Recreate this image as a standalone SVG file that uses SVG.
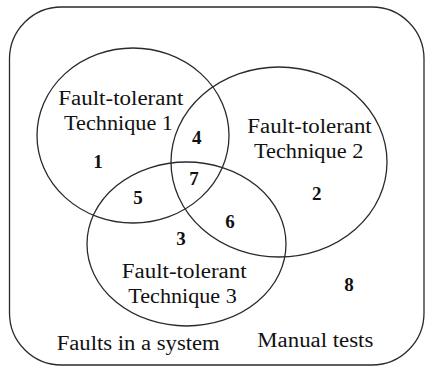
<svg xmlns="http://www.w3.org/2000/svg" width="425" height="367" viewBox="0 0 425 367">
<style>
.set{fill:none;stroke:#2a2a2a;stroke-width:1.3}
.lbl{font-family:"Liberation Serif","Times New Roman",serif;font-size:20.5px;fill:#111}
.num{font-family:"Liberation Serif","Times New Roman",serif;font-size:19px;font-weight:bold;fill:#111;text-anchor:middle}
</style>
<rect width="425" height="367" fill="#fff"/>
<g id="universe">
<rect class="set" x="9.5" y="7" width="414.5" height="358" rx="52" ry="52"/>
<text class="lbl" x="56.7" y="350" textLength="163" lengthAdjust="spacingAndGlyphs">Faults in a system</text>
<text class="lbl" x="257.3" y="347" textLength="116" lengthAdjust="spacingAndGlyphs">Manual tests</text>
<text class="num" x="349" y="291">8</text>
</g>
<g id="technique1">
<ellipse class="set" cx="133" cy="135.5" rx="96" ry="87.5"/>
<text class="lbl" x="58.3" y="105" textLength="125" lengthAdjust="spacingAndGlyphs">Fault-tolerant</text>
<text class="lbl" x="64" y="130" textLength="109" lengthAdjust="spacingAndGlyphs">Technique 1</text>
</g>
<g id="technique2">
<ellipse class="set" cx="279" cy="162" rx="108" ry="95"/>
<text class="lbl" x="247.3" y="133.3" textLength="124.4" lengthAdjust="spacingAndGlyphs">Fault-tolerant</text>
<text class="lbl" x="254" y="158.3" textLength="109.3" lengthAdjust="spacingAndGlyphs">Technique 2</text>
</g>
<g id="technique3">
<ellipse class="set" cx="186.5" cy="244" rx="99.5" ry="82"/>
<text class="lbl" x="121.7" y="278.3" textLength="125" lengthAdjust="spacingAndGlyphs">Fault-tolerant</text>
<text class="lbl" x="128.3" y="303.3" textLength="108.4" lengthAdjust="spacingAndGlyphs">Technique 3</text>
</g>
<g id="regions">
<text class="num" x="98" y="168">1</text>
<text class="num" x="316.7" y="200">2</text>
<text class="num" x="181" y="245">3</text>
<text class="num" x="196.7" y="144">4</text>
<text class="num" x="138" y="204">5</text>
<text class="num" x="230" y="228">6</text>
<text class="num" x="194" y="185">7</text>
</g>
<g id="connectors"></g>
</svg>
